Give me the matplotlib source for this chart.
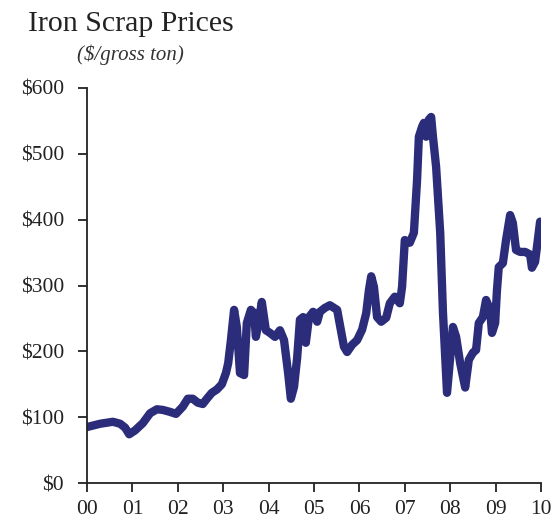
import matplotlib.pyplot as plt

# fractional years since 2000, $/gross ton
years = [0.00, 0.29, 0.57, 0.73, 0.84, 0.93, 1.06, 1.23, 1.39, 1.54, 1.67, 1.83, 1.96,
         2.11, 2.22, 2.33, 2.44, 2.55, 2.64, 2.75, 2.86, 2.97,
         3.06, 3.11, 3.17, 3.24, 3.30, 3.37, 3.46, 3.52, 3.61, 3.68, 3.72, 3.79, 3.85, 3.94,
         4.03, 4.14, 4.25, 4.34, 4.43, 4.49, 4.56, 4.63, 4.69, 4.76, 4.82, 4.89, 4.98,
         5.07, 5.13, 5.24, 5.35, 5.51, 5.59, 5.66, 5.73, 5.84, 5.95,
         6.06, 6.15, 6.21, 6.26, 6.32, 6.39, 6.48, 6.59, 6.67, 6.78, 6.89, 6.94,
         7.00, 7.11, 7.20, 7.27, 7.31, 7.38, 7.42, 7.47, 7.53, 7.58, 7.62, 7.69, 7.78, 7.84, 7.93,
         8.06, 8.13, 8.22, 8.33, 8.41, 8.50, 8.57, 8.63, 8.72, 8.79, 8.88, 8.92, 8.99,
         9.03, 9.07, 9.16, 9.23, 9.32, 9.38, 9.45, 9.54, 9.65, 9.76, 9.80, 9.87, 9.93, 9.98]
prices = [85, 90, 93, 90, 84, 74, 80, 91, 106, 112, 111, 108, 105,
          116, 128, 128, 122, 120, 128, 137, 142, 150,
          167, 182, 217, 263, 237, 167, 164, 243, 263, 258, 222, 248, 275, 232,
          228, 222, 232, 217, 167, 128, 146, 191, 248, 252, 213, 252, 260,
          245, 260, 266, 270, 263, 233, 207, 199, 210, 217,
          233, 258, 293, 314, 298, 252, 245, 251, 273, 283, 273, 298,
          369, 365, 380, 460, 526, 541, 547, 526, 552, 556, 526, 480, 380, 260, 137,
          237, 222, 182, 145, 187, 198, 202, 243, 252, 278, 263, 228, 243,
          293, 328, 334, 369, 407, 395, 354, 351, 351, 347, 327, 336, 369, 397]

year_labels = ['00', '01', '02', '03', '04', '05', '06', '07', '08', '09', '10']
price_ticks = [0, 100, 200, 300, 400, 500, 600]

plt.rcParams['font.family'] = 'Liberation Serif'

fig = plt.figure(figsize=(5.55, 5.31), dpi=100)
ax = fig.add_axes([87 / 555, 48 / 531, 454 / 555, 395 / 531])

ax.plot(years, prices, color='#2b2d7a', linewidth=6, solid_joinstyle='round',
        solid_capstyle='round')

ax.set_xlim(0, 10)
ax.set_ylim(0, 600)
ax.set_xticks(range(len(year_labels)))
ax.set_xticklabels(year_labels)
ax.set_yticks(price_ticks)
ax.set_yticklabels(['$%d' % p for p in price_ticks])

for side in ['top', 'right']:
    ax.spines[side].set_visible(False)
for side in ['left', 'bottom']:
    ax.spines[side].set_linewidth(1.3)
    ax.spines[side].set_color('#222222')
ax.tick_params(axis='both', direction='out', length=6.5, width=1.3, color='#222222',
               labelsize=15.5, labelcolor='#222222')
ax.tick_params(axis='x', pad=6)
ax.tick_params(axis='y', pad=10)

fig.text(131 / 555, 1 - 24 / 531, 'Iron Scrap Prices', ha='center', va='center',
         fontsize=21.5, color='#222222')
fig.text(130 / 555, 1 - 55 / 531, '(\\$/gross ton)', ha='center', va='center',
         fontsize=15, style='italic', color='#333333')

fig.savefig('out.png', dpi=100)
